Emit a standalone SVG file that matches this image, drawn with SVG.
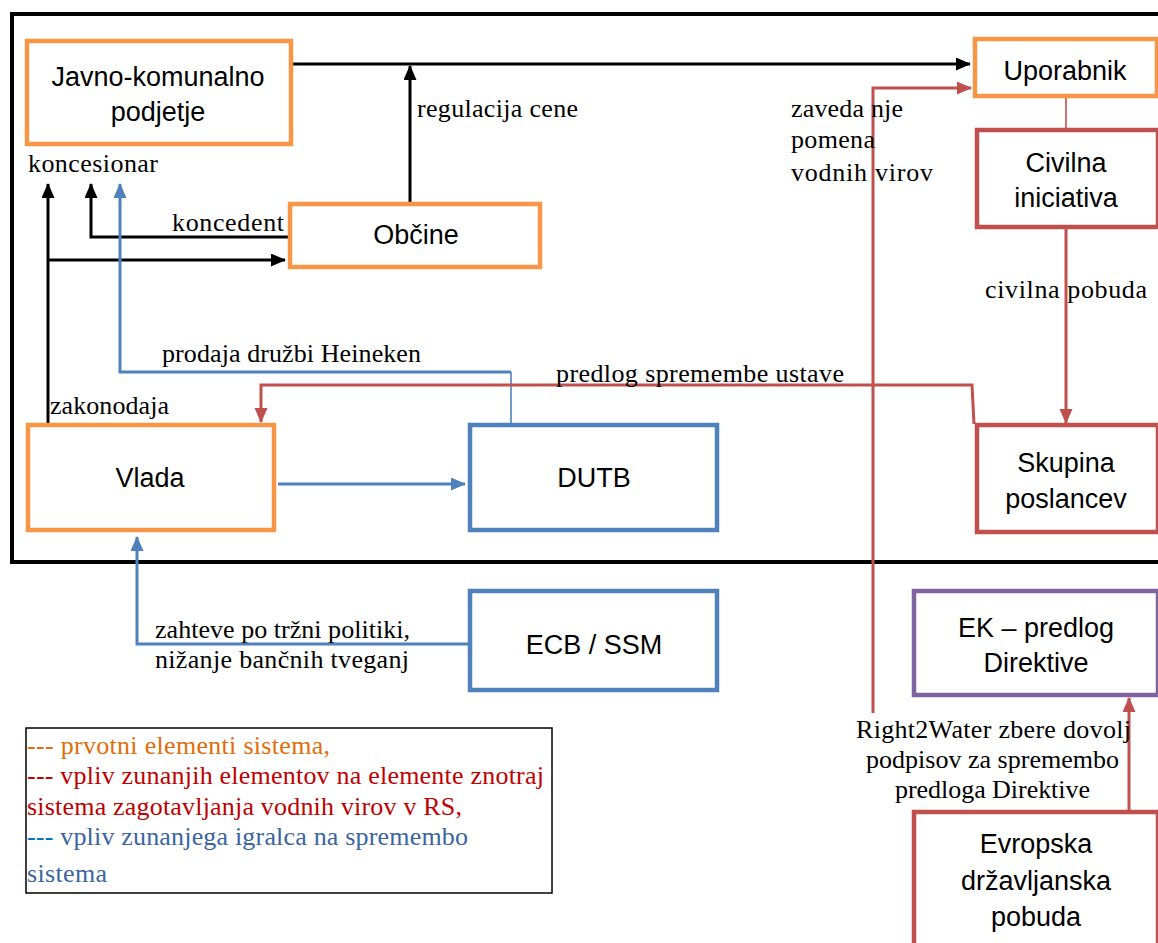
<svg xmlns="http://www.w3.org/2000/svg" width="1158" height="943" viewBox="0 0 1158 943">
<style>
.box{fill:#fff;stroke-width:4.5}
.or{stroke:#F79646}.rd{stroke:#C0504D}.bl{stroke:#4F81BD}.pu{stroke:#8064A2}
.bt{font-family:"Liberation Sans",Arial,sans-serif;font-size:27px;fill:#000;text-anchor:middle}
.lb{font-family:"Liberation Serif","Times New Roman",serif;font-size:26px;fill:#000}
.lg{font-family:"Liberation Serif","Times New Roman",serif;font-size:26px}
.c{fill:none;stroke-width:3}
</style>
<defs>
<marker id="ak" markerUnits="userSpaceOnUse" markerWidth="16" markerHeight="14" refX="14" refY="6.5" orient="auto"><path d="M0,0 L15,6.5 L0,13 z" fill="#000"/></marker>
<marker id="ab" markerUnits="userSpaceOnUse" markerWidth="16" markerHeight="14" refX="14" refY="6.5" orient="auto"><path d="M0,0 L15,6.5 L0,13 z" fill="#4F81BD"/></marker>
<marker id="ar" markerUnits="userSpaceOnUse" markerWidth="16" markerHeight="14" refX="14" refY="6.5" orient="auto"><path d="M0,0 L15,6.5 L0,13 z" fill="#C0504D"/></marker>
</defs>
<rect width="1158" height="943" fill="#fff"/>
<rect id="system-frame" x="12" y="14" width="1170" height="548" fill="none" stroke="#000" stroke-width="4"/>

<g id="connectors">
<path class="c" stroke="#000" d="M292,64 H970" marker-end="url(#ak)"/>
<path class="c" stroke="#000" d="M410,204 V66" marker-end="url(#ak)"/>
<path class="c" stroke="#000" d="M48,424 V184" marker-end="url(#ak)"/>
<path class="c" stroke="#000" d="M48,260 H285" marker-end="url(#ak)"/>
<path class="c" stroke="#000" d="M289,237 H91 V184" marker-end="url(#ak)"/>
<path class="c" stroke="#4F81BD" d="M511,372 H120 V184" marker-end="url(#ab)"/>
<path fill="none" stroke="#4F81BD" stroke-width="1.6" d="M511,372 V424"/>
<path class="c" stroke="#4F81BD" d="M278,484 H465" marker-end="url(#ab)"/>
<path class="c" stroke="#4F81BD" d="M468,644 H137 V537" marker-end="url(#ab)"/>
<path class="c" stroke="#C0504D" d="M974,424 L972,385 H261 V422" marker-end="url(#ar)"/>
<path class="c" stroke="#C0504D" d="M873,713 V88 H971" marker-end="url(#ar)"/>
<path fill="none" stroke="#C0504D" stroke-width="1.6" d="M1066,97 V128"/>
<path class="c" stroke="#C0504D" d="M1066,228 V423" marker-end="url(#ar)"/>
<path class="c" stroke="#C0504D" d="M1129,810 V698" marker-end="url(#ar)"/>
</g>

<g id="connector-labels">
<text class="lb" x="28" y="172" textLength="130">koncesionar</text>
<text class="lb" x="417" y="117" textLength="161">regulacija cene</text>
<text class="lb" x="172" y="231" textLength="112">koncedent</text>
<text class="lb" x="162" y="362" textLength="259">prodaja družbi Heineken</text>
<text class="lb" x="556" y="382" textLength="288">predlog spremembe ustave</text>
<text class="lb" x="50" y="414" textLength="119">zakonodaja</text>
<text class="lb" x="791" y="117" textLength="112">zaveda nje</text>
<text class="lb" x="791" y="148" textLength="84">pomena</text>
<text class="lb" x="791" y="181" textLength="142">vodnih  virov</text>
<text class="lb" x="985" y="298" textLength="162">civilna pobuda</text>
<text class="lb" x="155" y="638" textLength="255">zahteve po tržni politiki,</text>
<text class="lb" x="155" y="668" textLength="254">nižanje bančnih tveganj</text>
<text class="lb" x="856" y="738" textLength="275">Right2Water zbere dovolj</text>
<text class="lb" x="866" y="768" textLength="253">podpisov za spremembo</text>
<text class="lb" x="895" y="798" textLength="195">predloga Direktive</text>
</g>

<g id="javno-komunalno-podjetje">
<rect class="box or" x="27" y="41" width="264" height="103"/>
<text class="bt" x="158" y="86">Javno-komunalno</text>
<text class="bt" x="158" y="121">podjetje</text>
</g>
<g id="obcine">
<rect class="box or" x="290" y="204" width="250" height="63"/>
<text class="bt" x="416" y="244">Občine</text>
</g>
<g id="uporabnik">
<rect class="box or" x="975" y="39" width="182" height="57"/>
<text class="bt" x="1065" y="80">Uporabnik</text>
</g>
<g id="civilna-iniciativa">
<rect class="box rd" x="977" y="130" width="181" height="97"/>
<text class="bt" x="1066" y="172">Civilna</text>
<text class="bt" x="1066" y="207">iniciativa</text>
</g>
<g id="vlada">
<rect class="box or" x="28" y="425" width="246" height="105"/>
<text class="bt" x="150" y="487">Vlada</text>
</g>
<g id="dutb">
<rect class="box bl" x="470" y="425" width="247" height="105"/>
<text class="bt" x="594" y="487">DUTB</text>
</g>
<g id="skupina-poslancev">
<rect class="box rd" x="977" y="425" width="181" height="107"/>
<text class="bt" x="1066" y="472">Skupina</text>
<text class="bt" x="1066" y="508">poslancev</text>
</g>
<g id="ecb-ssm">
<rect class="box bl" x="470" y="591" width="247" height="99"/>
<text class="bt" x="594" y="654">ECB / SSM</text>
</g>
<g id="ek-predlog-direktive">
<rect class="box pu" x="914" y="591" width="244" height="104"/>
<text class="bt" x="1036" y="637">EK – predlog</text>
<text class="bt" x="1036" y="672">Direktive</text>
</g>
<g id="evropska-drzavljanska-pobuda">
<rect class="box rd" x="914" y="812" width="244" height="145"/>
<text class="bt" x="1036" y="853">Evropska</text>
<text class="bt" x="1036" y="890">državljanska</text>
<text class="bt" x="1036" y="926">pobuda</text>
</g>

<g id="legend">
<rect x="26" y="728" width="526" height="165" fill="#fff" stroke="#000" stroke-width="1.5"/>
<text class="lg" x="27" y="754" fill="#E36C09" textLength="303">--- prvotni elementi sistema,</text>
<text class="lg" x="27" y="784" fill="#C00000" textLength="517">--- vpliv zunanjih elementov na elemente znotraj</text>
<text class="lg" x="27" y="815" fill="#C00000" textLength="435">sistema zagotavljanja vodnih virov v RS,</text>
<text class="lg" x="27" y="845" fill="#3B64A0" textLength="441"><tspan fill="#0070C0">---</tspan> vpliv zunanjega igralca na spremembo</text>
<text class="lg" x="27" y="882" fill="#3B64A0" textLength="80">sistema</text>
</g>
</svg>
